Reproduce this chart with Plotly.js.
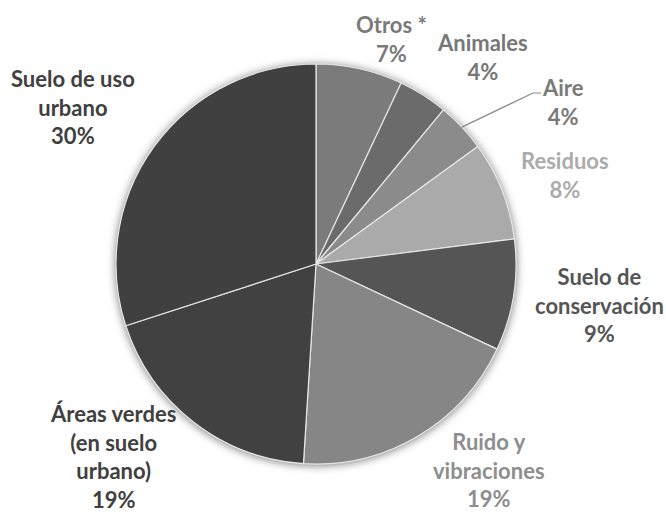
<!DOCTYPE html>
<html>
<head>
<meta charset="utf-8">
<script src="https://cdn.plot.ly/plotly-3.0.1.min.js"></script>
<style>
html,body{margin:0;padding:0;background:#fff;}
#chart{width:666px;height:514px;}
.pielayer .trace{filter:drop-shadow(0px 1px 4px rgba(0,0,0,0.5));}
</style>
</head>
<body>
<div id="chart"></div>
<script>
// Data
var categories = ["Otros *", "Animales", "Aire", "Residuos", "Suelo de conservación", "Ruido y vibraciones", "Áreas verdes (en suelo urbano)", "Suelo de uso urbano"];
var values = [7, 4, 4, 8, 9, 19, 19, 30];
var labelLines = [["Otros *"], ["Animales"], ["Aire"], ["Residuos"], ["Suelo de", "conservación"], ["Ruido y", "vibraciones"], ["Áreas verdes", "(en suelo", "urbano)"], ["Suelo de uso", "urbano"]];

// Styles
var sliceColors = ["#7b7b7b", "#6b6b6b", "#8b8b8b", "#aaaaaa", "#555555", "#868686", "#414141", "#404040"];
var textColors  = ["#7a7a7a", "#777777", "#7a7a7a", "#ababab", "#555555", "#8e8e8e", "#404040", "#404040"];
// label centres in pixels (layout only)
var labelPos = [[391, 39], [482, 57], [563, 102], [565, 175], [599, 305], [489, 470], [113, 456], [73, 107]];

var W = 666, H = 514;
var cx = 316, cy = 264, R = 200;

var annotations = categories.map(function (c, i) {
  return {
    xref: "paper", yref: "paper",
    x: labelPos[i][0] / W, y: 1 - labelPos[i][1] / H,
    xanchor: "center", yanchor: "middle",
    text: labelLines[i].join("<br>") + "<br>" + values[i] + "%",
    showarrow: false,
    align: "center",
    font: {family: "Lato, 'Open Sans', sans-serif", size: 22, color: textColors[i], weight: "bold"}
  };
});

// leader line for "Aire" computed from its slice's mid angle
var total = values.reduce(function (a, b) { return a + b; }, 0);
var before = 0;
for (var k = 0; k < 2; k++) before += values[k];
var mid = (before + values[2] / 2) / total * 2 * Math.PI;
var ex = cx + R * Math.sin(mid), ey = cy - R * Math.cos(mid);
function px(x) { return x / W; }
function py(y) { return 1 - y / H; }
var shapes = [{
  type: "path", xref: "paper", yref: "paper",
  path: "M" + px(ex) + "," + py(ey) + " L" + px(533) + "," + py(93) + " L" + px(541) + "," + py(93),
  line: {color: "#8a8a8a", width: 1.2}
}];

var trace = {
  type: "pie",
  labels: categories,
  values: values,
  sort: false,
  direction: "clockwise",
  rotation: 0,
  textinfo: "none",
  hoverinfo: "none",
  marker: {colors: sliceColors, line: {color: "#e6e6e6", width: 1.2}},
  domain: {x: [(cx - R) / W, (cx + R) / W], y: [1 - (cy + R) / H, 1 - (cy - R) / H]}
};

var layout = {
  width: W, height: H,
  margin: {l: 0, r: 0, t: 0, b: 0},
  paper_bgcolor: "#ffffff",
  showlegend: false,
  annotations: annotations,
  shapes: shapes
};

Plotly.newPlot("chart", [trace], layout, {staticPlot: true, displayModeBar: false});
</script>
</body>
</html>
